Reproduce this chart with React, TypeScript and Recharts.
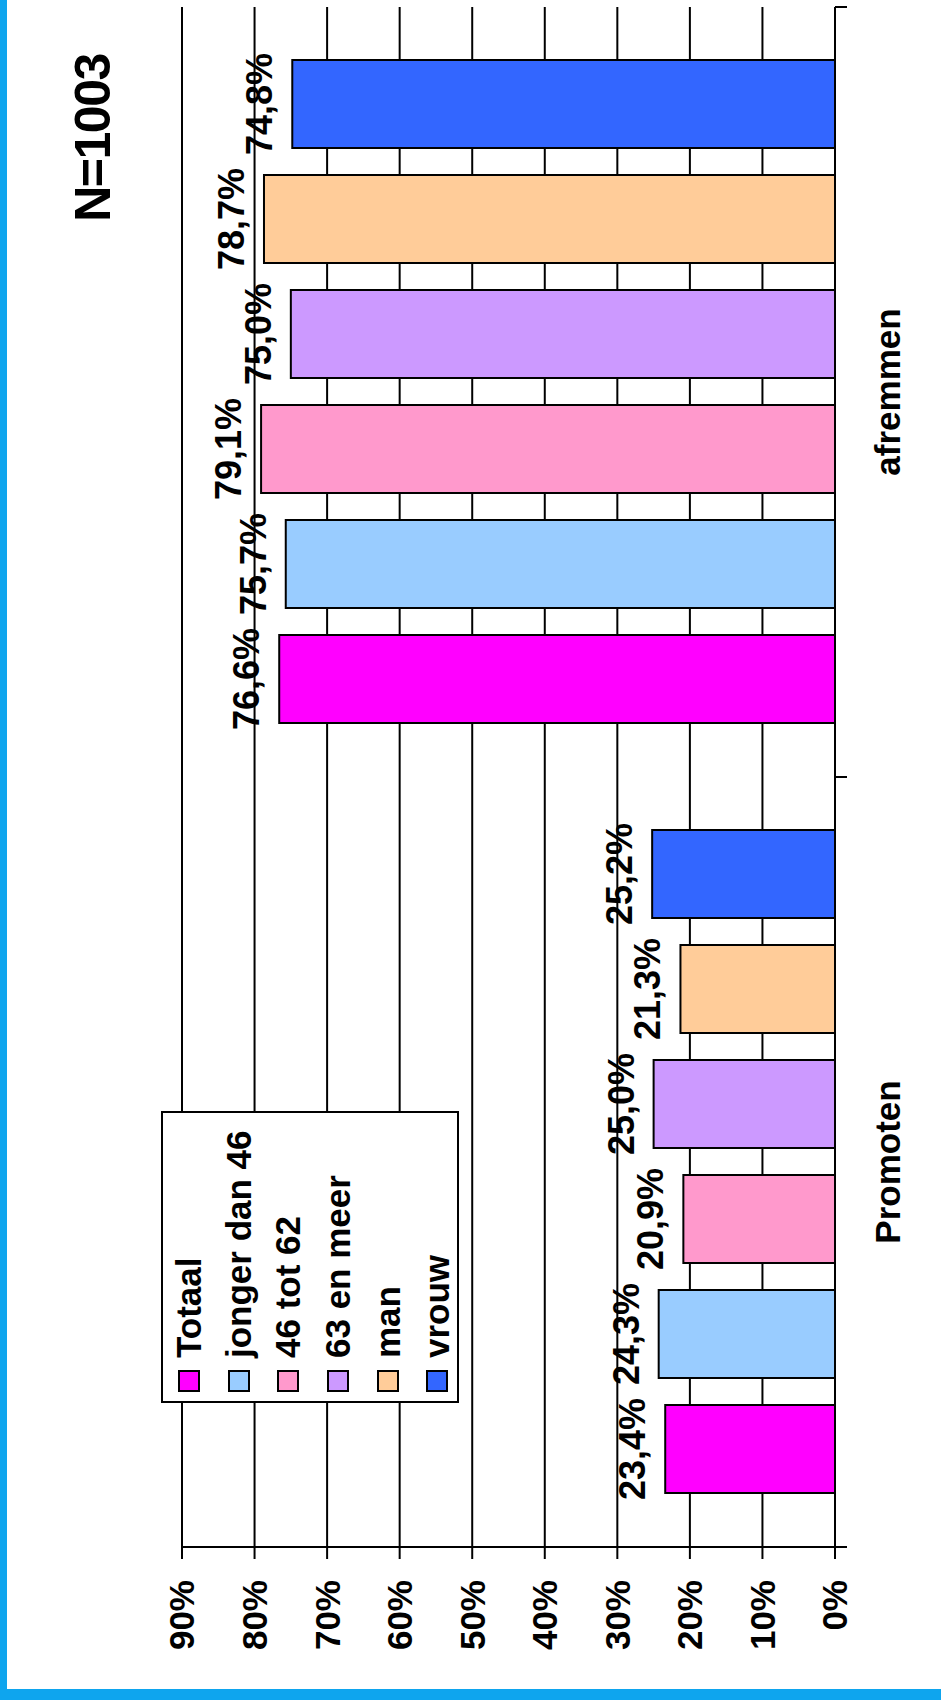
import React from 'react';
import { BarChart, Bar, XAxis, YAxis, CartesianGrid, Legend, LabelList } from 'recharts';

// ---- data ----
const categories = ['Promoten', 'afremmen'];
const seriesNames = ['Totaal', 'jonger dan 46', '46 tot 62', '63 en meer', 'man', 'vrouw'];
const seriesColors = ['#FF00FF', '#99CCFF', '#FF99CC', '#CC99FF', '#FFCC99', '#3366FF'];
const totaal = [23.4, 76.6];
const jongerDan46 = [24.3, 75.7];
const tot62 = [20.9, 79.1];
const enMeer63 = [25.0, 75.0];
const man = [21.3, 78.7];
const vrouw = [25.2, 74.8];
const valueTicks = [0, 10, 20, 30, 40, 50, 60, 70, 80, 90];
const sampleLabel = 'N=1003';

const seriesValues = [totaal, jongerDan46, tot62, enMeer63, man, vrouw];
const data = categories.map((c, i) => {
  const row: Record<string, any> = { category: c };
  seriesValues.forEach((s, j) => {
    row['s' + j] = s[i];
  });
  return row;
});

const FONT = "'Liberation Sans', Arial, Helvetica, sans-serif";
const W = 1700;
const H = 941;

const fmtPct = (v: any) => `${Number(v).toFixed(1).replace('.', ',')}%`;

const CategoryTick = (props: any) => {
  const { x, y, payload, index } = props;
  const half = payload && typeof payload.offset === 'number' && payload.offset > 0 ? payload.offset : 385;
  return (
    <g>
      {index === 0 && (
        <line x1={x - half} x2={x - half} y1={y} y2={y + 12} stroke="#000" strokeWidth={2} />
      )}
      <line x1={x + half} x2={x + half} y1={y} y2={y + 12} stroke="#000" strokeWidth={2} />
      <text
        x={x}
        y={y + 65}
        textAnchor="middle"
        fontSize={35}
        fontWeight="bold"
        fill="#000"
        fontFamily={FONT}
      >
        {payload.value}
      </text>
    </g>
  );
};

const LegendBox = () => (
  <div
    style={{
      width: 292,
      height: 298,
      boxSizing: 'border-box',
      border: '2px solid #000',
      background: '#fff',
      paddingTop: 1,
      fontFamily: FONT,
      fontWeight: 'bold',
      fontSize: 35,
      color: '#000',
    }}
  >
    {seriesNames.map((name, i) => (
      <div
        key={name}
        style={{ height: 49.7, display: 'flex', alignItems: 'center', whiteSpace: 'nowrap' }}
      >
        <div
          style={{
            width: 22,
            height: 22,
            boxSizing: 'border-box',
            border: '2px solid #000',
            background: seriesColors[i],
            marginLeft: 9,
            marginRight: 12,
            flex: '0 0 auto',
          }}
        />
        <span style={{ lineHeight: '49.7px' }}>{name}</span>
      </div>
    ))}
  </div>
);

export default function App() {
  return (
    <div
      style={{
        position: 'absolute',
        left: 0,
        top: 0,
        width: 941,
        height: 1700,
        overflow: 'hidden',
        background: '#fff',
      }}
    >
      <div
        style={{
          position: 'absolute',
          left: 0,
          top: 0,
          width: W,
          height: H,
          transformOrigin: '0 0',
          transform: `translate(0px, ${W}px) rotate(-90deg)`,
          fontFamily: FONT,
        }}
      >
        <BarChart
          width={W}
          height={H}
          data={data}
          margin={{ top: 182, right: 7, bottom: 0, left: 0 }}
          barSize={88}
          barGap={27}
          style={{ fontFamily: FONT }}
        >
          <CartesianGrid vertical={false} stroke="#000" strokeWidth={2} strokeDasharray="" />
          <XAxis
            dataKey="category"
            height={106}
            axisLine={{ stroke: '#000', strokeWidth: 2 }}
            tickLine={false}
            tickSize={0}
            tickMargin={0}
            tick={<CategoryTick />}
            interval={0}
          />
          <YAxis
            width={153}
            domain={[0, 90]}
            ticks={valueTicks}
            interval={0}
            allowDataOverflow
            tickFormatter={(v: number) => `${v}%`}
            axisLine={{ stroke: '#000', strokeWidth: 2 }}
            tickLine={{ stroke: '#000', strokeWidth: 2 }}
            tickSize={12}
            tickMargin={21}
            tick={{ fontSize: 35, fontWeight: 'bold', fill: '#000', fontFamily: FONT }}
          />
          <Legend
            layout="horizontal"
            verticalAlign="middle"
            align="center"
            content={() => <LegendBox />}
            wrapperStyle={{ position: 'absolute', left: 297, top: 161, width: 292, height: 298 }}
          />
          {seriesNames.map((name, j) => (
            <Bar
              key={name}
              dataKey={'s' + j}
              name={name}
              fill={seriesColors[j]}
              stroke="#000"
              strokeWidth={2}
              isAnimationActive={false}
            >
              <LabelList
                dataKey={'s' + j}
                position="top"
                offset={20}
                formatter={fmtPct}
                fill="#000"
                fontSize={36}
                fontWeight="bold"
                fontFamily={FONT}
              />
            </Bar>
          ))}
        </BarChart>
        <div
          style={{
            position: 'absolute',
            left: 1412,
            top: 67.7,
            width: 300,
            textAlign: 'center',
            fontFamily: FONT,
            fontWeight: 'bold',
            fontSize: 50,
            lineHeight: '50px',
            letterSpacing: -1.5,
            color: '#000',
            whiteSpace: 'nowrap',
          }}
        >
          {sampleLabel}
        </div>
      </div>
      <div style={{ position: 'absolute', left: 0, top: 0, width: 7, height: 1700, background: '#0ea5ee' }} />
      <div style={{ position: 'absolute', left: 0, top: 1689, width: 941, height: 11, background: '#0ea5ee' }} />
    </div>
  );
}
